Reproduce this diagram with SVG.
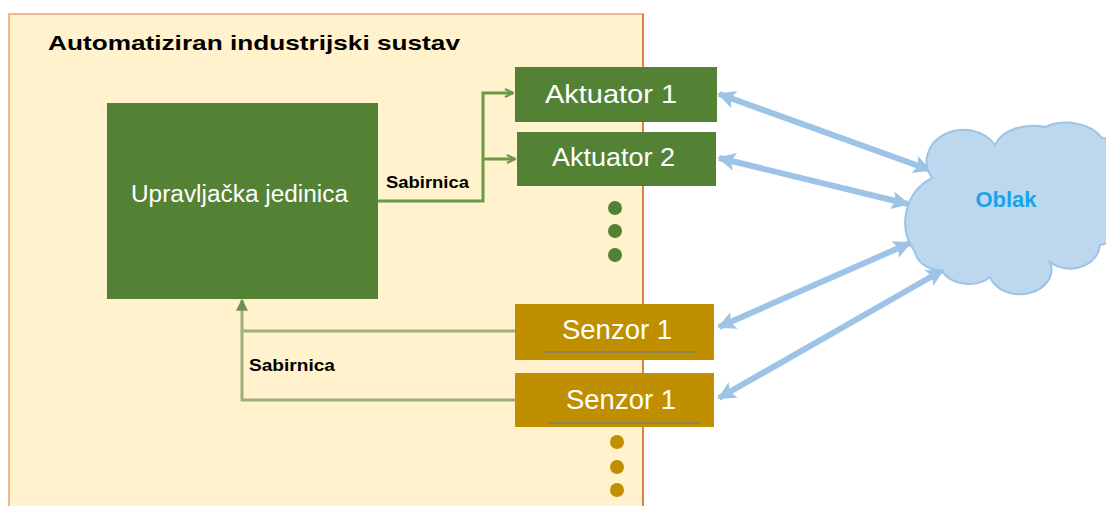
<svg xmlns="http://www.w3.org/2000/svg" width="1106" height="506" viewBox="0 0 1106 506">
<style>
.lbl{font-family:"Liberation Sans",Arial,sans-serif;}
.w{fill:#FFFFFF;}
.b{font-weight:bold;}
.gconn{fill:none;stroke:#6A9A45;stroke-width:3;}
.sconn{fill:none;stroke:#9BB07A;stroke-width:3;}
.blue{stroke:#9DC3E6;stroke-width:6;fill:none;}
.act{fill:#548235;}
.sen{fill:#BF8F00;}
.ul{stroke:#8C8455;stroke-width:2;}
</style>
<defs>
<marker id="ga" viewBox="0 0 10 10" refX="9" refY="5" markerWidth="10" markerHeight="10" markerUnits="userSpaceOnUse" orient="auto">
<path d="M1,1 L9,5 L1,9" fill="none" stroke="#6A9A45" stroke-width="2.2"/>
</marker>
<marker id="sa" viewBox="0 0 10 10" refX="9" refY="5" markerWidth="12" markerHeight="12" markerUnits="userSpaceOnUse" orient="auto">
<path d="M0,0 L10,5 L0,10 Z" fill="#6E9050"/>
</marker>
<marker id="ba" viewBox="0 0 10 10" refX="9" refY="5" markerWidth="22" markerHeight="18" markerUnits="userSpaceOnUse" orient="auto-start-reverse">
<path d="M0,0 L10,5 L0,10 L2,5 Z" fill="#9DC3E6"/>
</marker>
</defs>
<rect width="1106" height="506" fill="#FFFFFF"/>
<g id="system">
<rect x="9" y="14" width="634" height="500" fill="#FFF2CC" stroke="#F0B890" stroke-width="2"/>
<line x1="643" y1="14" x2="643" y2="506" stroke="#D9823F" stroke-width="2"/>
<text class="lbl b" x="48" y="50" font-size="21" fill="#000000" textLength="412" lengthAdjust="spacingAndGlyphs">Automatiziran industrijski sustav</text>
</g>
<g id="connectors">
<polyline class="gconn" points="378,201 483,201 483,93 513,93" marker-end="url(#ga)"/>
<polyline class="gconn" points="483,159 515,159" marker-end="url(#ga)"/>
<polyline class="sconn" points="515,331 242,331 242,300" marker-end="url(#sa)"/>
<polyline class="sconn" points="515,400 242,400 242,331"/>
<text class="lbl b" x="386" y="188" font-size="17" fill="#000000" textLength="83" lengthAdjust="spacingAndGlyphs">Sabirnica</text>
<text class="lbl b" x="249" y="371" font-size="17" fill="#000000" textLength="86" lengthAdjust="spacingAndGlyphs">Sabirnica</text>
<line class="blue" x1="719" y1="94" x2="930" y2="170" marker-start="url(#ba)" marker-end="url(#ba)"/>
<line class="blue" x1="719" y1="158" x2="908" y2="204" marker-start="url(#ba)" marker-end="url(#ba)"/>
<line class="blue" x1="719" y1="327" x2="910" y2="243" marker-start="url(#ba)" marker-end="url(#ba)"/>
<line class="blue" x1="719" y1="398" x2="943" y2="270" marker-start="url(#ba)" marker-end="url(#ba)"/>
</g>
<g id="upravljacka">
<rect x="107" y="103" width="271" height="196" fill="#548235"/>
<text class="lbl w" x="131" y="202" font-size="23" textLength="217" lengthAdjust="spacingAndGlyphs">Upravljačka jedinica</text>
</g>
<g id="aktuator1">
<rect class="act" x="515" y="67" width="202" height="55"/>
<text class="lbl w" x="545" y="103" font-size="26" textLength="132" lengthAdjust="spacingAndGlyphs">Aktuator 1</text>
</g>
<g id="aktuator2">
<rect class="act" x="517" y="132" width="199" height="54"/>
<text class="lbl w" x="552" y="166" font-size="26" textLength="123" lengthAdjust="spacingAndGlyphs">Aktuator 2</text>
</g>
<g id="aktuator-dots" fill="#548235">
<circle cx="615" cy="208" r="7"/>
<circle cx="615" cy="231" r="7"/>
<circle cx="615" cy="255" r="7"/>
</g>
<g id="senzor1">
<rect class="sen" x="515" y="304" width="199" height="56"/>
<line class="ul" x1="544" y1="352" x2="696" y2="352"/>
<text class="lbl w" x="562" y="339" font-size="28" textLength="110" lengthAdjust="spacingAndGlyphs">Senzor 1</text>
</g>
<g id="senzor2">
<rect class="sen" x="515" y="373" width="199" height="54"/>
<line class="ul" x1="549" y1="423" x2="700" y2="423"/>
<text class="lbl w" x="566" y="409" font-size="28" textLength="110" lengthAdjust="spacingAndGlyphs">Senzor 1</text>
</g>
<g id="senzor-dots" fill="#BF8F00">
<circle cx="617" cy="442" r="7"/>
<circle cx="617" cy="467" r="7"/>
<circle cx="617" cy="490" r="7"/>
</g>
<g id="oblak">
<path d="M915,252 A50,50 0 0 1 932,178 A35,30 0 0 1 995,145 A40,28 0 0 1 1045,127 A40,28 0 0 1 1102,138 A30,32 0 0 1 1118,195 A30,30 0 0 1 1100,245 A30,26 0 0 1 1050,262 A28,22 0 0 1 990,277 A28,20 0 0 1 942,270 A26,22 0 0 1 915,252 Z" fill="#BDD7EE" stroke="#9DC3E6" stroke-width="2"/>
<text class="lbl b" x="1006" y="207" font-size="22" fill="#1AA3E8" text-anchor="middle">Oblak</text>
</g>
</svg>
